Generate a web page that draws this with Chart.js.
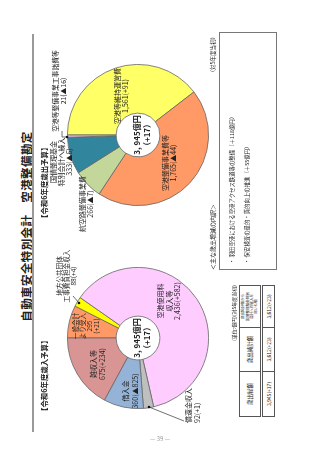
<!DOCTYPE html>
<html>
<head>
<meta charset="utf-8">
<script src="https://cdn.jsdelivr.net/npm/chart.js@4"></script>
<style>
  html, body { margin: 0; padding: 0; background: #fff; }
  body { width: 320px; height: 453px; position: relative; overflow: hidden;
         font-family: "Noto Sans CJK JP", "Noto Sans", sans-serif; color: #222; }
  #page { position: absolute; left: 0; top: 453px; width: 453px; height: 320px;
          transform-origin: 0 0; transform: rotate(-90deg); }
  #page canvas { position: absolute; }
  .lbl { position: absolute; white-space: nowrap; }
  .title { position: absolute; left: 0; width: 453px; top: 18px; text-align: center;
           font-size: 11.5px; font-weight: bold; letter-spacing: 0.4px; }
  .rule { position: absolute; left: 21px; width: 398px; top: 32px; height: 2px; background: #999; }
  .head { font-size: 7.4px; font-weight: bold; }
  .box { position: absolute; left: 183px; top: 219px; width: 236px; height: 56px; border: 1px solid #777; }
  table { position: absolute; left: 36px; top: 239px; width: 132px; height: 36px;
          border-collapse: collapse; font-size: 5px; }
  td { border: 1px solid #555; text-align: center; padding: 0; }
  #pageno { position: absolute; left: 147px; top: 434px; width: 26px; text-align: center;
            font-size: 6px; color: #999; }
  svg { position: absolute; left: 0; top: 0; }
</style>
</head>
<body>
<div id="page">
  <div class="title">自動車安全特別会計　空港整備勘定</div>
  <div class="rule"></div>
  <canvas id="revChart" width="142" height="142" style="left:44px;top:67px"></canvas>
  <canvas id="expChart" width="142" height="142" style="left:247px;top:67px"></canvas>
  <div class="box"></div>
  <table>
    <tr style="height:22px">
      <td style="width:44px;font-size:5.5px">歳出総額</td>
      <td style="width:43px;font-size:5.5px">歳出純計額</td>
      <td style="font-size:3.6px;line-height:4.4px">歳出純計額から<br>国債整理基金特別<br>会計への繰入を<br>除いた額</td>
    </tr>
    <tr style="border-top:3px double #555">
      <td id="v0"></td><td id="v1"></td><td id="v2"></td>
    </tr>
  </table>
  <svg width="453" height="320" id="leaders"></svg>
</div>
<div id="pageno">— 39 —</div>
<script>
// 歳入
const revLabels = ['一般会計より受入', '地方公共団体工事費負担金収入', '空港使用料収入等', '償還金収入', '借入金', '雑収入等'];
const revValues = [295, 88, 2436, 92, 360, 675];
const revChanges = ['+21', '+4', '+582', '+1', '▲825', '+234'];
const revColors = ['#FF9966', '#FFFF00', '#FFCCFF', '#BFBFBF', '#95B3D7', '#D99594'];

// 歳出
const expLabels = ['空港等維持運営費', '空港整備事業費等', '航空路整備事業費', '国債整理基金特別会計へ繰入', '空港等整備事業工事諸費等'];
const expValues = [1561, 1765, 266, 333, 21];
const expChanges = ['+91', '▲44', '▲7', '▲6', '▲16'];
const expColors = ['#FFFF66', '#FF9966', '#C4D79B', '#31859C', '#E6B8E6'];

const totalBudget = '3, 945';
const totalChange = '+17';

// 歳出総額・純計額
const tableValues = ['3,945(+17)', '3,612(+23)', '3,612(+23)'];
const increases = ['羽田空港における空港アクセス鉄道等の整備（＋118億円）', '保安検査の量的・質的向上の推進（＋55億円）'];

const page = document.getElementById('page');
const fmt = v => v.toLocaleString('en-US');

function addLabel(x, y, lines, o = {}) {
  const d = document.createElement('div');
  d.className = 'lbl' + (o.cls ? ' ' + o.cls : '');
  d.style.left = x + 'px';
  d.style.top = y + 'px';
  d.style.fontSize = (o.size || 7) + 'px';
  d.style.lineHeight = (o.lh || 8) + 'px';
  const align = o.align || 'center';
  d.style.textAlign = align;
  if (align === 'center') d.style.transform = 'translateX(-50%)';
  if (align === 'right') d.style.transform = 'translateX(-100%)';
  if (o.bold) d.style.fontWeight = 'bold';
  d.innerHTML = lines.join('<br>');
  page.appendChild(d);
}

function makeDoughnut(id, values, colors) {
  return new Chart(document.getElementById(id), {
    type: 'doughnut',
    data: {
      labels: id === 'revChart' ? revLabels : expLabels,
      datasets: [{ data: values, backgroundColor: colors, borderColor: '#666', borderWidth: 0.8 }]
    },
    options: {
      responsive: false,
      animation: false,
      cutout: '31%',
      plugins: { legend: { display: false }, tooltip: { enabled: false } }
    }
  });
}

makeDoughnut('revChart', revValues, revColors);
makeDoughnut('expChart', expValues, expColors);

// headings
addLabel(38, 40, ['【令和6年度歳入予算】'], { align: 'left', cls: 'head', size: 7.4 });
addLabel(231, 40, ['【令和6年度歳出予算】'], { align: 'left', cls: 'head', size: 7.4 });

// centre texts
addLabel(115, 132, [totalBudget + '億円', '（' + totalChange + '）'], { size: 8, lh: 10, bold: true });
addLabel(318, 132, [totalBudget + '億円', '（' + totalChange + '）'], { size: 8, lh: 10, bold: true });

// revenue labels
addLabel(127, 72, ['一般会計', 'より受入', fmt(revValues[0]), '(' + revChanges[0] + ')'], { size: 6.6, lh: 7 });
addLabel(177, 56, ['地方公共団体', '工事費負担金収入', fmt(revValues[1]) + '(' + revChanges[1] + ')'], { size: 6.6, lh: 7 });
addLabel(152, 156, ['空港使用料', '収入等', fmt(revValues[2]) + '(' + revChanges[2] + ')'], { size: 7, lh: 8.5 });
addLabel(30, 184, ['償還金収入', fmt(revValues[3]) + '(' + revChanges[3] + ')'], { align: 'left', size: 7, lh: 9 });
addLabel(62, 121, ['借入金', fmt(revValues[4]) + '(' + revChanges[4] + ')'], { size: 7, lh: 9.5 });
addLabel(89, 89, ['雑収入等', fmt(revValues[5]) + '(' + revChanges[5] + ')'], { size: 7, lh: 9 });

// expenditure labels
addLabel(357, 113, ['空港等維持運営費', fmt(expValues[0]) + '(' + expChanges[0] + ')'], { size: 7, lh: 8 });
addLabel(290, 162, ['空港整備事業費等', fmt(expValues[1]) + '(' + expChanges[1] + ')'], { size: 7, lh: 7.5 });
addLabel(249, 79, ['航空路整備事業費', fmt(expValues[2]) + '(' + expChanges[2] + ')'], { size: 7, lh: 7.5 });
addLabel(291, 49, ['国債整理基金', '特別会計へ繰入', fmt(expValues[3]) + '(' + expChanges[3] + ')'], { size: 7, lh: 8 });
addLabel(362, 51, ['空港等整備事業工事諸費等', fmt(expValues[4]) + '(' + expChanges[4] + ')'], { size: 6.8, lh: 8 });

// box with main increases
addLabel(183, 209, ['＜主な歳出増減の内訳＞'], { align: 'left', size: 6 });
addLabel(419, 209, ['（対5年度当初）'], { align: 'right', size: 5.5 });
addLabel(189, 225, increases.map(t => '・ ' + t), { align: 'left', size: 5.4, lh: 15 });

// table
addLabel(168, 230, ['(単位:億円)(対5年度当初)'], { align: 'right', size: 5 });
tableValues.forEach((t, i) => { document.getElementById('v' + i).textContent = t; });

// leader lines
document.getElementById('leaders').innerHTML =
  '<g stroke="#333" stroke-width="0.7" fill="none">' +
  '<polyline points="157,73 150,79"/>' +
  '<polyline points="46,149 32,184"/>' +
  '<polyline points="316,67 316,62 322,62"/>' +
  '</g>' +
  '<g fill="#111"><circle cx="150" cy="79" r="1.3"/><circle cx="46" cy="149" r="1.3"/><circle cx="316" cy="67" r="1.3"/></g>';
</script>
</body>
</html>
